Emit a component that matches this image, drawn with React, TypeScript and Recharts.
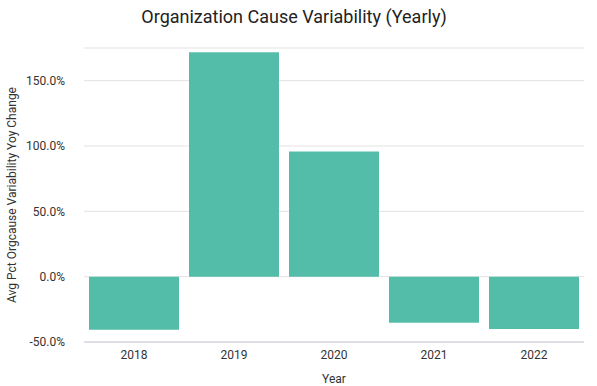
import { BarChart, Bar, XAxis, YAxis, CartesianGrid } from 'recharts';

const years = ['2018', '2019', '2020', '2021', '2022'];
const avgPctChange = [-40.6, 171.7, 95.7, -35.2, -40.0];
const yTicks = [-50, 0, 50, 100, 150];

const data = years.map((year, i) => ({ year, value: avgPctChange[i] }));

const FONT = 'Roboto, "Noto Sans", sans-serif';

export default function App() {
    return (
        <div style={{ position: 'absolute', left: 0, top: 0, width: 597, height: 386, background: '#fff', fontFamily: FONT }}>
            <div style={{ position: 'absolute', top: 6, left: 0, width: 588, textAlign: 'center', fontSize: 18, color: '#222' }}>
                Organization Cause Variability (Yearly)
            </div>
            <BarChart
                width={597}
                height={386}
                data={data}
                margin={{ top: 48, right: 13, left: 0, bottom: 0 }}
                barCategoryGap={5}
            >
                <CartesianGrid vertical={false} stroke="#e3e3e3" />
                <XAxis
                    dataKey="year"
                    height={44}
                    tickLine={false}
                    axisLine={{ stroke: '#c9ceda' }}
                    tick={{ fill: '#333', fontSize: 12, fontFamily: FONT }}
                    label={{ value: 'Year', position: 'insideBottom', offset: 3, fill: '#333', fontSize: 12, fontFamily: FONT }}
                />
                <YAxis
                    width={84}
                    domain={[-50, 175]}
                    ticks={yTicks}
                    allowDataOverflow
                    axisLine={false}
                    tickLine={false}
                    tickMargin={13}
                    tickFormatter={(v: number) => `${v.toFixed(1)}%`}
                    tick={{ fill: '#333', fontSize: 12, fontFamily: FONT }}
                    label={{ value: 'Avg Pct Orgcause Variability Yoy Change', angle: -90, position: 'insideLeft', offset: 12, style: { textAnchor: 'middle' }, fill: '#333', fontSize: 12, fontFamily: FONT }}
                />
                <Bar dataKey="value" fill="#53bda9" isAnimationActive={false} />
            </BarChart>
        </div>
    );
}
